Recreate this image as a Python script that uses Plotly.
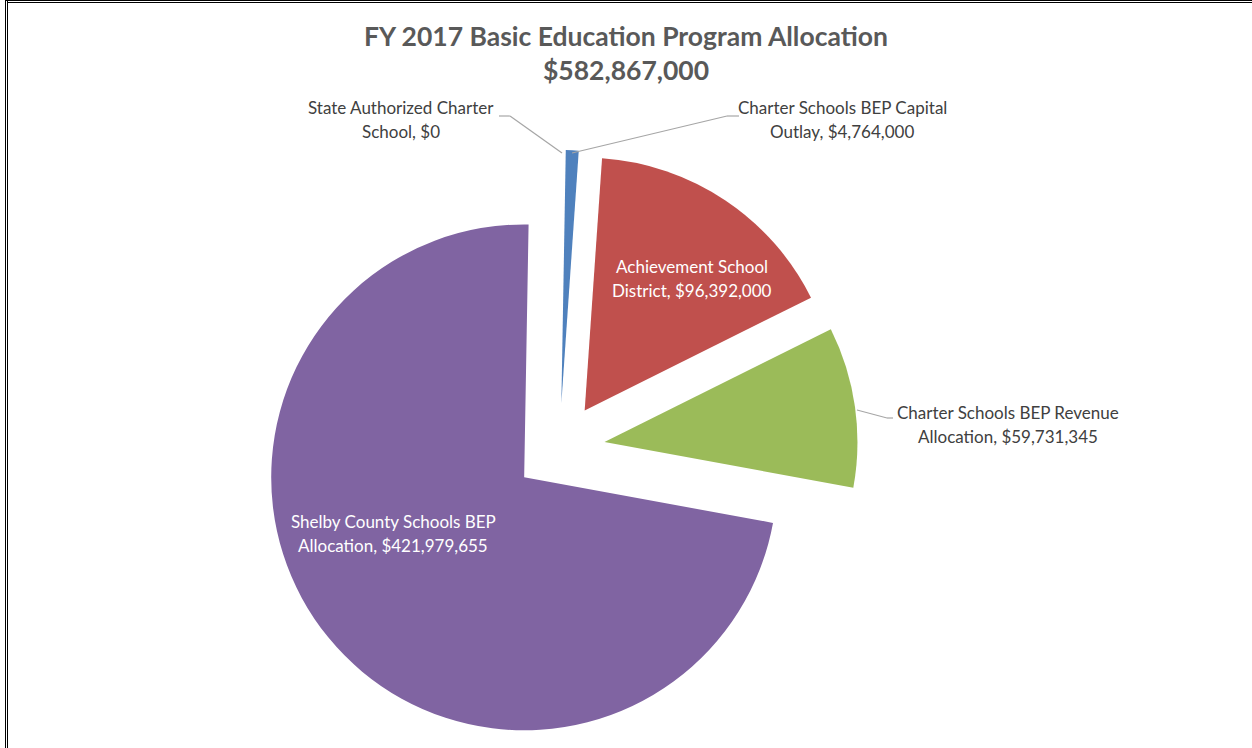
import plotly.graph_objects as go

# ---- data ----
labels = [
    "Charter Schools BEP Capital<br>Outlay",
    "Achievement School<br>District",
    "Charter Schools BEP Revenue<br>Allocation",
    "Shelby County Schools BEP<br>Allocation",
    "State Authorized Charter<br>School",
]
values = [4764000, 96392000, 59731345, 421979655, 0]
colors = ["#4F81BD", "#C0504D", "#9BBB59", "#8064A2", "#4BACC6"]
title_line1 = "FY 2017 Basic Education Program Allocation"
total = sum(values)

W, H = 1252, 748
FONT = "Lato, Open Sans, sans-serif"


def px(x):
    return x / W


def py(y):
    return 1 - y / H


CX, CY, HALF = 559.4, 448.5, 298.5

fig = go.Figure(
    go.Pie(
        labels=labels,
        values=values,
        sort=False,
        direction="clockwise",
        rotation=1,
        pull=[0.18] * len(values),
        marker=dict(colors=colors, line=dict(color="white", width=0)),
        textinfo="none",
        hoverinfo="label+value",
        showlegend=False,
        domain=dict(x=[px(CX - HALF), px(CX + HALF)], y=[py(CY + HALF), py(CY - HALF)]),
    )
)

annotations = []
# title
annotations.append(dict(x=px(626), y=py(36), xref="paper", yref="paper", text=f"<b>{title_line1}</b>",
                        showarrow=False, font=dict(family=FONT, size=26.5, color="#595959"), xanchor="center", yanchor="middle"))
annotations.append(dict(x=px(626), y=py(70), xref="paper", yref="paper", text=f"<b>${total:,}</b>",
                        showarrow=False, font=dict(family=FONT, size=26.5, color="#595959"), xanchor="center", yanchor="middle"))

# label placement (layout only): center x, first line y, colour
label_pos = [
    (842, 107, "#404040"),   # capital outlay
    (692, 266, "#FFFFFF"),   # ASD
    (1008, 412, "#404040"),  # revenue
    (393, 521, "#FFFFFF"),   # Shelby
    (401, 107, "#404040"),   # state authorized
]
for lab, val, (cx, cy, col) in zip(labels, values, label_pos):
    text = f"{lab}, ${val:,}"
    lines = text.split("<br>")
    for i, line in enumerate(lines):
        annotations.append(dict(x=px(cx), y=py(cy + i * 24.5), xref="paper", yref="paper", text=line,
                                showarrow=False, font=dict(family=FONT, size=17, color=col),
                                xanchor="center", yanchor="middle"))

shapes = []
lead = "#A6A6A6"
# leader lines
for pts in [
    [(499, 116), (510, 116), (562, 153)],
    [(739, 116), (727, 116), (572, 153)],
    [(857, 410), (887, 418), (893, 418)],
]:
    for (x0, y0), (x1, y1) in zip(pts[:-1], pts[1:]):
        shapes.append(dict(type="line", xref="paper", yref="paper", x0=px(x0), y0=py(y0), x1=px(x1), y1=py(y1),
                           line=dict(color=lead, width=1.2)))
# frame (double lines, top & left)
for off in (5.5, 7.5):
    shapes.append(dict(type="line", xref="paper", yref="paper", x0=px(off), y0=py(0), x1=px(off), y1=py(H),
                       line=dict(color="black", width=1)))
for off, start in ((0.5, 5), (2.5, 7)):
    shapes.append(dict(type="line", xref="paper", yref="paper", x0=px(start), y0=py(off), x1=px(W), y1=py(off),
                       line=dict(color="black", width=1)))

fig.update_layout(
    width=W, height=H,
    margin=dict(l=0, r=0, t=0, b=0),
    paper_bgcolor="white", plot_bgcolor="white",
    annotations=annotations, shapes=shapes,
    font=dict(family=FONT),
)
fig.write_html("out.html", config={"displayModeBar": False},
               post_script="document.body.style.margin='0';document.body.style.overflow='hidden';")
